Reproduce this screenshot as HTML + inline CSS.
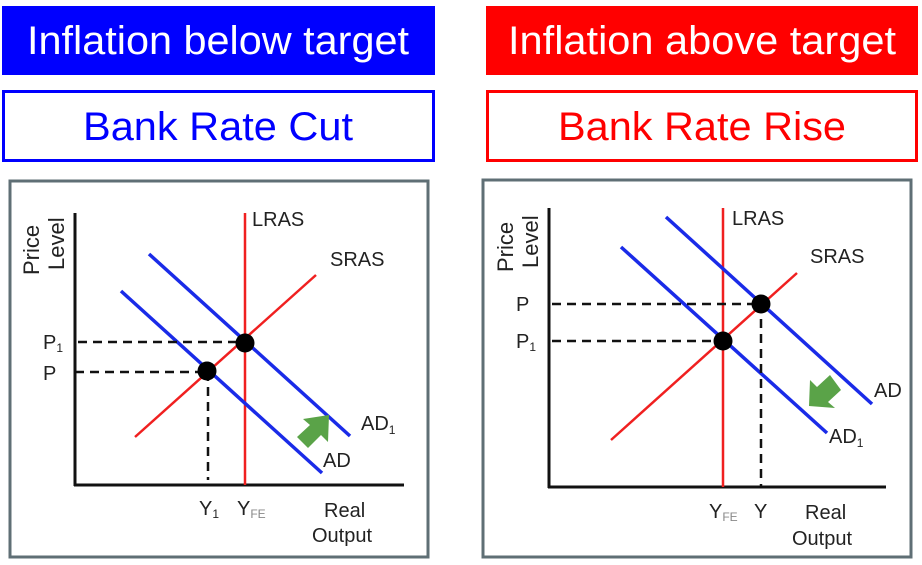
<!DOCTYPE html>
<html><head><style>body{margin:0;background:#fff}svg{display:block}</style></head><body>
<svg width="922" height="565" viewBox="0 0 922 565" xmlns="http://www.w3.org/2000/svg" font-family="Liberation Sans, sans-serif">
<rect x="2" y="6" width="433" height="69" fill="#0000ff"/>
<text x="218" y="54" font-size="40" fill="#fff" text-anchor="middle" textLength="382" lengthAdjust="spacingAndGlyphs">Inflation below target</text>
<rect x="486" y="6" width="432" height="69" fill="#ff0000"/>
<text x="702" y="54" font-size="40" fill="#fff" text-anchor="middle" textLength="388" lengthAdjust="spacingAndGlyphs">Inflation above target</text>
<rect x="3.5" y="91.5" width="430" height="69" fill="#fff" stroke="#0000ff" stroke-width="3"/>
<text x="218" y="140" font-size="40" fill="#0000ff" text-anchor="middle" textLength="270" lengthAdjust="spacingAndGlyphs">Bank Rate Cut</text>
<rect x="487.5" y="91.5" width="429" height="69" fill="#fff" stroke="#ff0000" stroke-width="3"/>
<text x="702" y="140" font-size="40" fill="#ff0000" text-anchor="middle" textLength="288" lengthAdjust="spacingAndGlyphs">Bank Rate Rise</text>

<!-- left panel -->
<rect x="10" y="181" width="418" height="376" fill="#fff" stroke="#5f6f75" stroke-width="3"/>
<g font-size="20" fill="#222">
<line x1="75" y1="213" x2="75" y2="486" stroke="#111" stroke-width="3"/>
<line x1="74" y1="485" x2="404" y2="485" stroke="#111" stroke-width="3"/>
<line x1="245" y1="213" x2="245" y2="485" stroke="#f02020" stroke-width="2.5"/>
<line x1="135" y1="437" x2="316" y2="275" stroke="#f02020" stroke-width="2.5"/>
<line x1="149" y1="254" x2="350" y2="436" stroke="#1a2be8" stroke-width="3.5"/>
<line x1="121" y1="291" x2="322" y2="473" stroke="#1a2be8" stroke-width="3.5"/>
<line x1="78" y1="342" x2="245" y2="342" stroke="#111" stroke-width="2.5" stroke-dasharray="9,6"/>
<line x1="75" y1="372" x2="207" y2="372" stroke="#111" stroke-width="2.5" stroke-dasharray="9,6"/>
<line x1="208" y1="372" x2="208" y2="480" stroke="#111" stroke-width="2.5" stroke-dasharray="9,6"/>
<circle cx="245" cy="343" r="9.5" fill="#000"/>
<circle cx="207" cy="371" r="9.5" fill="#000"/>
<polygon points="297,437 310,425 303,419 329,415 328,442 321,435 308,448" fill="#5aa348"/>
<text x="252" y="226">LRAS</text>
<text x="330" y="266">SRAS</text>
<text x="43" y="349">P<tspan font-size="12" dy="3">1</tspan></text>
<text x="43" y="380">P</text>
<text x="361" y="430">AD<tspan font-size="12" dy="4">1</tspan></text>
<text x="323" y="467">AD</text>
<text x="199" y="515">Y<tspan font-size="12" dy="3">1</tspan></text>
<text x="237" y="515">Y<tspan font-size="12" dy="3" fill="#888">FE</tspan></text>
<text x="324" y="517">Real</text>
<text x="312" y="542">Output</text>
<text font-size="22" transform="translate(39,275) rotate(-90)">Price</text>
<text font-size="22" transform="translate(64,270) rotate(-90)">Level</text>
</g>

<!-- right panel -->
<rect x="483" y="180" width="428" height="377" fill="#fff" stroke="#5f6f75" stroke-width="3"/>
<g font-size="20" fill="#222">
<line x1="549" y1="208" x2="549" y2="488" stroke="#111" stroke-width="3"/>
<line x1="548" y1="487" x2="886" y2="487" stroke="#111" stroke-width="3"/>
<line x1="723" y1="208" x2="723" y2="487" stroke="#f02020" stroke-width="2.5"/>
<line x1="611" y1="440" x2="797" y2="273" stroke="#f02020" stroke-width="2.5"/>
<line x1="666" y1="217" x2="872" y2="404" stroke="#1a2be8" stroke-width="3.5"/>
<line x1="621" y1="247" x2="827" y2="433" stroke="#1a2be8" stroke-width="3.5"/>
<line x1="552" y1="304" x2="761" y2="304" stroke="#111" stroke-width="2.5" stroke-dasharray="9,6"/>
<line x1="552" y1="341" x2="723" y2="341" stroke="#111" stroke-width="2.5" stroke-dasharray="9,6"/>
<line x1="761" y1="304" x2="761" y2="487" stroke="#111" stroke-width="2.5" stroke-dasharray="9,6"/>
<circle cx="761" cy="304" r="9.5" fill="#000"/>
<circle cx="723" cy="341" r="9.5" fill="#000"/>
<polygon points="841,390 828,402 835,408 809,406 810,380 817,387 830,375" fill="#5aa348"/>
<text x="732" y="225">LRAS</text>
<text x="810" y="263">SRAS</text>
<text x="516" y="311">P</text>
<text x="516" y="348">P<tspan font-size="12" dy="3">1</tspan></text>
<text x="874" y="397">AD</text>
<text x="829" y="443">AD<tspan font-size="12" dy="4">1</tspan></text>
<text x="709" y="518">Y<tspan font-size="12" dy="3" fill="#888">FE</tspan></text>
<text x="754" y="518">Y</text>
<text x="805" y="519">Real</text>
<text x="792" y="545">Output</text>
<text font-size="22" transform="translate(513,272) rotate(-90)">Price</text>
<text font-size="22" transform="translate(538,268) rotate(-90)">Level</text>
</g>
</svg>
</body></html>
